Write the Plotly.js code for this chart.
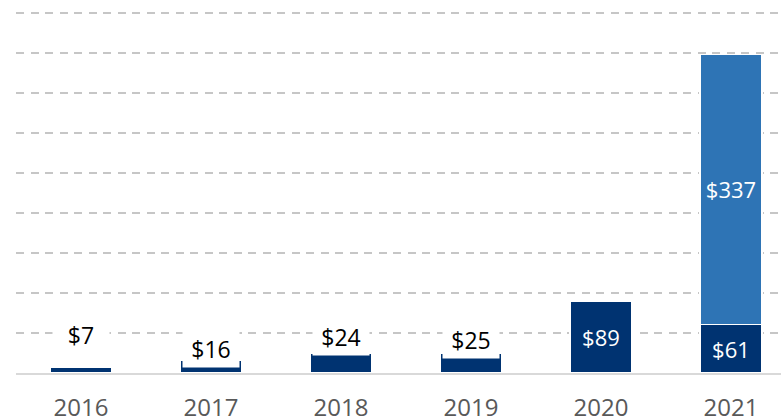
<!DOCTYPE html>
<html>
<head>
<meta charset="utf-8">
<script src="https://cdn.plot.ly/plotly-3.0.1.min.js"></script>
<style>html,body{margin:0;padding:0;background:#fff;}#chart{width:781px;height:418px;}</style>
</head>
<body>
<div id="chart"></div>
<script>
// ---- data ----
var years = ['2016', '2017', '2018', '2019', '2020', '2021'];
var baseValues = [7, 16, 24, 25, 89, 61];
var topValues = [null, null, null, null, null, 337];

// ---- styling (not data) ----
var labelOutside = [true, true, true, true, false, false];
var labelShift = [32, 11, 17, 13, 0, 0];   // px offsets for outside labels
var darkBlue = '#003371';
var lightBlue = '#2E74B5';
var fontFam = '"Open Sans", "Noto Sans", sans-serif';

var baseText = baseValues.map(function (v, i) { return labelOutside[i] ? '' : '$' + v; });
var topText = topValues.map(function (v) { return v == null ? '' : '$' + v; });

var traces = [
  {
    type: 'bar', x: years, y: baseValues, width: 0.477,
    marker: { color: darkBlue, line: { color: '#ffffff', width: 1.2 } },
    text: baseText, textposition: 'inside', insidetextanchor: 'middle',
    textfont: { color: '#ffffff', size: 22, family: fontFam },
    hoverinfo: 'skip'
  },
  {
    type: 'bar', x: years, y: topValues, width: 0.477,
    marker: { color: lightBlue, line: { color: '#ffffff', width: 1.2 } },
    text: topText, textposition: 'inside', insidetextanchor: 'middle',
    textfont: { color: '#ffffff', size: 22, family: fontFam },
    hoverinfo: 'skip'
  }
];

// category axis: annotations positioned by category index
var annotations = [];
baseValues.forEach(function (v, i) {
  if (!labelOutside[i]) return;
  annotations.push({
    x: i, y: v, xref: 'x', yref: 'y',
    yanchor: 'middle', xanchor: 'center', yshift: labelShift[i],
    text: '$' + v, showarrow: false,
    bgcolor: '#ffffff', width: 56, height: 36, borderpad: 0,
    font: { color: '#000000', size: 23, family: fontFam }
  });
});

var layout = {
  width: 781, height: 418,
  margin: { l: 16, r: 0, t: 11, b: 45, pad: 0 },
  paper_bgcolor: '#ffffff', plot_bgcolor: '#ffffff',
  barmode: 'stack', showlegend: false,
  xaxis: {
    type: 'category', range: [-0.5, 5.385],
    showgrid: false, zeroline: false,
    showline: true, linecolor: '#d9d9d9', linewidth: 2,
    ticks: '', ticklabelstandoff: 12,
    tickfont: { color: '#595959', size: 24, family: fontFam },
    fixedrange: true
  },
  yaxis: {
    range: [0, 452.5], dtick: 50, tick0: 0,
    showgrid: true, gridcolor: '#c6c6c6', gridwidth: 2, griddash: '8px,6.5px',
    zeroline: false, showticklabels: false, ticks: '',
    fixedrange: true
  },
  annotations: annotations,
  font: { family: fontFam }
};

Plotly.newPlot('chart', traces, layout, { staticPlot: true, displayModeBar: false });
</script>
</body>
</html>
